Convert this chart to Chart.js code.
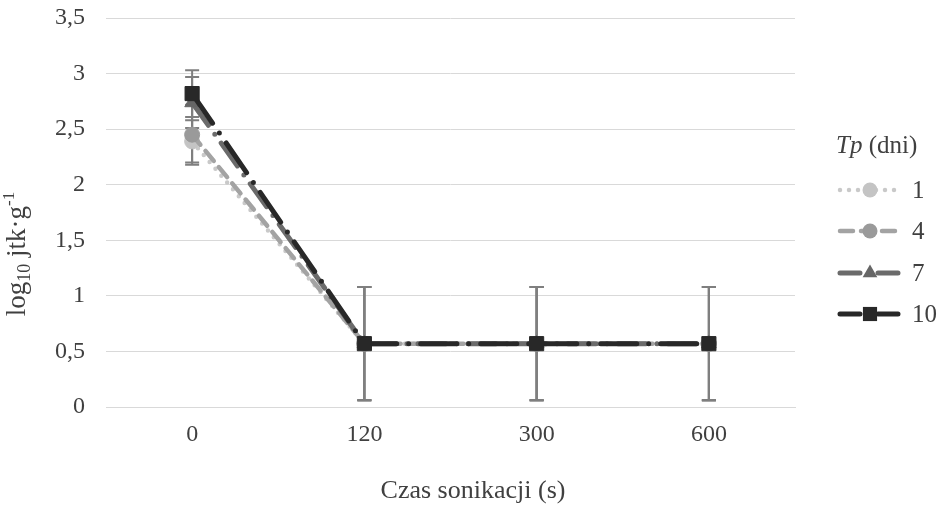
<!DOCTYPE html>
<html>
<head>
<meta charset="utf-8">
<script src="https://cdn.jsdelivr.net/npm/chart.js@4"></script>
<style>
  html, body { margin: 0; padding: 0; background: #ffffff; }
  #wykres { display: block; }
</style>
</head>
<body>
<canvas id="wykres" width="945" height="508"></canvas>
<script>
// dane
const czas = ["0", "120", "300", "600"];
const tp1 = [2.39, 0.57, 0.57, 0.57];
const tp4 = [2.45, 0.57, 0.57, 0.57];
const tp7 = [2.74, 0.57, 0.57, 0.57];
const tp10 = [2.82, 0.57, 0.57, 0.57];
const blad1 = [0.19, 0.51, 0.51, 0.51];
const blad4 = [0.27, 0.51, 0.51, 0.51];
const blad7 = [0.23, 0.51, 0.51, 0.51];
const blad10 = [0.21, 0.51, 0.51, 0.51];
const etykietySerii = ["1", "4", "7", "10"];
const yMin = 0, yMax = 3.5, yKrok = 0.5;

const tytulX = "Czas sonikacji (s)";
const tytulLegendy = ["Tp", " (dni)"];

const FONT = "'Liberation Serif', 'Times New Roman', serif";
const kolorTekstu = "#404040";

const style = [
    { kolor: "#c9c9c9", punkt: "#c4c4c4", ksztalt: "circle", r: 7.5, dash: [0, 9], szer: 4.5 },
    { kolor: "#a3a3a3", punkt: "#9a9a9a", ksztalt: "circle", r: 7.5, dash: [13, 8], szer: 4.5 },
    { kolor: "#6b6b6b", punkt: "#666666", ksztalt: "triangle", r: 8.5, dash: [28, 11, 0, 11], szer: 5 },
    { kolor: "#282828", punkt: "#282828", ksztalt: "rect", r: 10, dash: [36, 12, 0, 12], szer: 5 }
];
const serie = [tp1, tp4, tp7, tp10];
const bledy = [blad1, blad4, blad7, blad10];

const zbiory = serie.map((dane, i) => ({
    label: etykietySerii[i],
    data: dane,
    borderColor: style[i].kolor,
    borderWidth: style[i].szer,
    borderDash: style[i].dash,
    borderCapStyle: "round",
    backgroundColor: style[i].punkt,
    pointBackgroundColor: style[i].punkt,
    pointBorderColor: style[i].punkt,
    pointBorderWidth: 1,
    pointStyle: style[i].ksztalt,
    pointRadius: style[i].r,
    pointHoverRadius: style[i].r,
    tension: 0,
    fill: false,
    order: 4 - i
}));

/* =========================
   SLUPKI BLEDOW
========================= */
const slupkiBledow = {
    id: "slupkiBledow",
    beforeDatasetsDraw(chart) {
        const ctx = chart.ctx;
        const x = chart.scales.x;
        const y = chart.scales.y;
        ctx.save();
        ctx.strokeStyle = "#7f7f7f";
        ctx.lineWidth = 2;
        serie.forEach((dane, s) => {
            dane.forEach((v, i) => {
                const px = x.getPixelForValue(i);
                const gora = y.getPixelForValue(v + bledy[s][i]);
                const dol = y.getPixelForValue(v - bledy[s][i]);
                ctx.beginPath();
                ctx.moveTo(px, gora);
                ctx.lineTo(px, dol);
                ctx.moveTo(px - 7, gora);
                ctx.lineTo(px + 7, gora);
                ctx.moveTo(px - 7, dol);
                ctx.lineTo(px + 7, dol);
                ctx.stroke();
            });
        });
        ctx.restore();
    }
};

/* =========================
   TYTULY I LEGENDA
========================= */
function rysujZnacznik(ctx, ksztalt, x, y, r, kolor) {
    ctx.fillStyle = kolor;
    ctx.beginPath();
    if (ksztalt === "circle") {
        ctx.arc(x, y, r, 0, Math.PI * 2);
    } else if (ksztalt === "triangle") {
        const a = r * Math.sqrt(3) / 2;
        ctx.moveTo(x, y - r);
        ctx.lineTo(x + a, y + r / 2);
        ctx.lineTo(x - a, y + r / 2);
        ctx.closePath();
    } else {
        const b = r * Math.SQRT1_2;
        ctx.rect(x - b, y - b, 2 * b, 2 * b);
    }
    ctx.fill();
}

const opisy = {
    id: "opisy",
    afterDraw(chart) {
        const ctx = chart.ctx;
        ctx.save();
        ctx.fillStyle = kolorTekstu;

        // tytul osi X
        ctx.font = "26px " + FONT;
        ctx.textAlign = "center";
        ctx.textBaseline = "alphabetic";
        ctx.fillText(tytulX, 473, 498);

        // tytul osi Y: log10 jtk·g-1
        const czesci = [
            { t: "log", f: 27, dy: 0 },
            { t: "10", f: 18, dy: 5 },
            { t: " jtk·g", f: 27, dy: 0 },
            { t: "-1", f: 17, dy: -11 }
        ];
        let dl = 0;
        czesci.forEach(c => {
            ctx.font = c.f + "px " + FONT;
            c.w = ctx.measureText(c.t).width;
            dl += c.w;
        });
        ctx.translate(25, 254);
        ctx.rotate(-Math.PI / 2);
        ctx.textAlign = "left";
        let px = -dl / 2;
        czesci.forEach(c => {
            ctx.font = c.f + "px " + FONT;
            ctx.fillText(c.t, px, c.dy);
            px += c.w;
        });
        ctx.setTransform(1, 0, 0, 1, 0, 0);

        // legenda
        ctx.textAlign = "left";
        ctx.textBaseline = "middle";
        ctx.font = "italic 25px " + FONT;
        ctx.fillText(tytulLegendy[0], 836, 146);
        const wTp = ctx.measureText(tytulLegendy[0]).width;
        ctx.font = "25px " + FONT;
        ctx.fillText(tytulLegendy[1], 836 + wTp, 146);

        const wiersze = [190, 231, 273, 314];
        etykietySerii.forEach((et, i) => {
            const yy = wiersze[i];
            const st = style[i];
            ctx.save();
            ctx.strokeStyle = st.kolor;
            ctx.lineWidth = st.szer;
            ctx.lineCap = "round";
            ctx.setLineDash(i >= 2 ? [20, 9, 0, 9] : st.dash);
            ctx.beginPath();
            ctx.moveTo(840, yy);
            ctx.lineTo(900, yy);
            ctx.stroke();
            ctx.restore();
            rysujZnacznik(ctx, st.ksztalt, 870, yy, st.r, st.punkt);
            ctx.fillStyle = kolorTekstu;
            ctx.fillText(et, 912, yy + 1);
        });
        ctx.restore();
    }
};

new Chart(document.getElementById("wykres").getContext("2d"), {
    type: "line",
    data: {
        labels: czas,
        datasets: zbiory
    },
    options: {
        responsive: false,
        animation: false,
        events: [],
        layout: {
            padding: { left: 0, right: 150, top: 18, bottom: 0 }
        },
        plugins: {
            legend: { display: false },
            tooltip: { enabled: false },
            title: { display: false }
        },
        scales: {
            x: {
                type: "category",
                offset: true,
                grid: { display: false, drawTicks: false },
                border: { display: true, color: "#d9d9d9", width: 1 },
                ticks: {
                    color: kolorTekstu,
                    font: { family: FONT, size: 24 },
                    padding: 13,
                    maxRotation: 0
                },
                afterFit(s) { s.height = 101; }
            },
            y: {
                min: yMin,
                max: yMax,
                grid: {
                    color: "#d9d9d9",
                    lineWidth: 1,
                    drawTicks: true,
                    tickLength: 21,
                    tickColor: "rgba(0,0,0,0)"
                },
                border: { display: false },
                ticks: {
                    stepSize: yKrok,
                    color: kolorTekstu,
                    font: { family: FONT, size: 24 },
                    padding: 0,
                    callback: v => String(v).replace(".", ",")
                },
                afterFit(s) { s.width = 106; }
            }
        }
    },
    plugins: [slupkiBledow, opisy]
});
</script>
</body>
</html>
